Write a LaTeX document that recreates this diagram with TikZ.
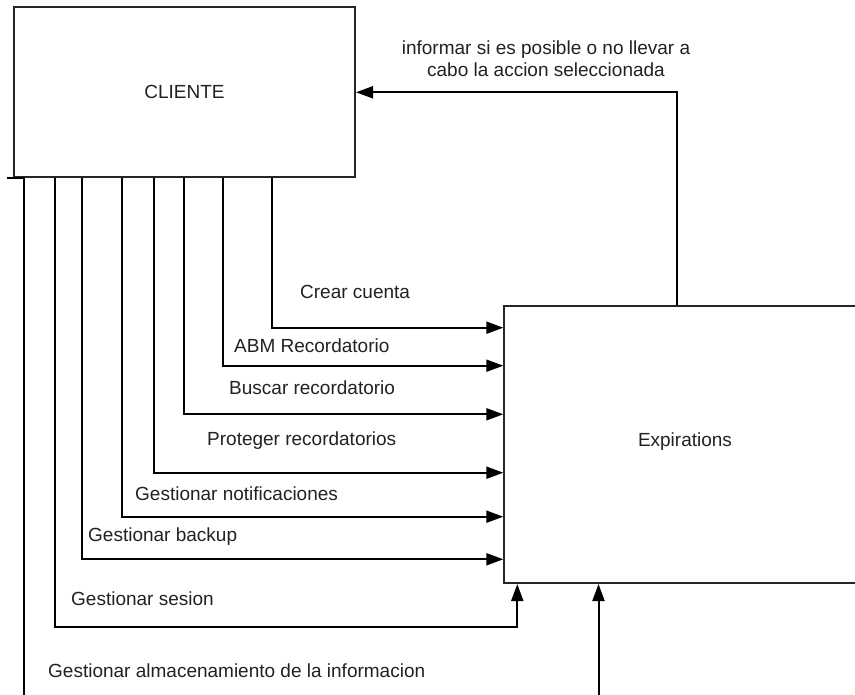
\documentclass[tikz,border=0pt]{standalone}
\usepackage{fontspec}
\setmainfont{Liberation Sans}
\usetikzlibrary{arrows.meta}
\definecolor{ink}{RGB}{34,34,34}
\begin{document}
\begin{tikzpicture}[x=1pt,y=-1pt,
  box/.style={draw=black!85, line width=2pt, fill=white, inner sep=0pt,
    font=\fontsize{19}{23}\selectfont, text=ink},
  flow/.style={draw=black, line width=2pt, -{Triangle[length=17pt,width=12pt]}},
  lbl/.style={font=\fontsize{19}{23}\selectfont, text=ink, inner sep=0pt, anchor=west},
]
\useasboundingbox (0,0) rectangle (855,695);
\fill[white] (0,0) rectangle (855,695);
\clip (0,0) rectangle (855,695);

% the two entities
\node[box, minimum width=341pt, minimum height=170pt] (cliente) at (184.5,92) {CLIENTE};
\node[box, minimum width=355pt, minimum height=277pt, anchor=north west] (expir) at (503.3,305) {};
\node[font=\fontsize{19}{23}\selectfont, text=ink] (expirlbl) at (685,442) {Expirations};

% requests from the client
\draw[flow] (cliente.south -| 272.3,0) |- (expir.west |- 0,327.7);
\draw[flow] (cliente.south -| 223.3,0) |- (expir.west |- 0,365.7);
\draw[flow] (cliente.south -| 184.3,0) |- (expir.west |- 0,414.3);
\draw[flow] (cliente.south -| 154.3,0) |- (expir.west |- 0,472.7);
\draw[flow] (cliente.south -| 122,0)   |- (expir.west |- 0,516.7);
\draw[flow] (cliente.south -| 81.7,0)  |- (expir.west |- 0,559.3);
\draw[flow] (cliente.south -| 55,0) -- (55,626.5) -| (expir.south -| 517.3,0);
\coordinate (stub) at (7,178);
\draw[flow] (stub) -- (24.3,178) -- (24.3,720) -| (expir.south -| 598.5,0);

% answer back to the client
\draw[flow] (expir.north -| 676.7,0) |- (cliente.east |- 0,92.3);

% labels
\node[lbl] (l1) at (300,291.7) {Crear cuenta};
\node[lbl] (l2) at (234,345.7) {ABM Recordatorio};
\node[lbl] (l3) at (229,388) {Buscar recordatorio};
\node[lbl] (l4) at (207,441) {Proteger recordatorios};
\node[lbl] (l5) at (135,494) {Gestionar notificaciones};
\node[lbl] (l6) at (88,537) {Gestionar backup};
\node[lbl] (l7) at (71,599) {Gestionar sesion};
\node[lbl] (l8) at (48,671) {Gestionar almacenamiento de la informacion};
\node[font=\fontsize{19}{21.6}\selectfont, text=ink, align=center, inner sep=0pt] (l9) at (546,58.5)
  {informar si es posible o no llevar a\\cabo la accion seleccionada};
\end{tikzpicture}
\end{document}
